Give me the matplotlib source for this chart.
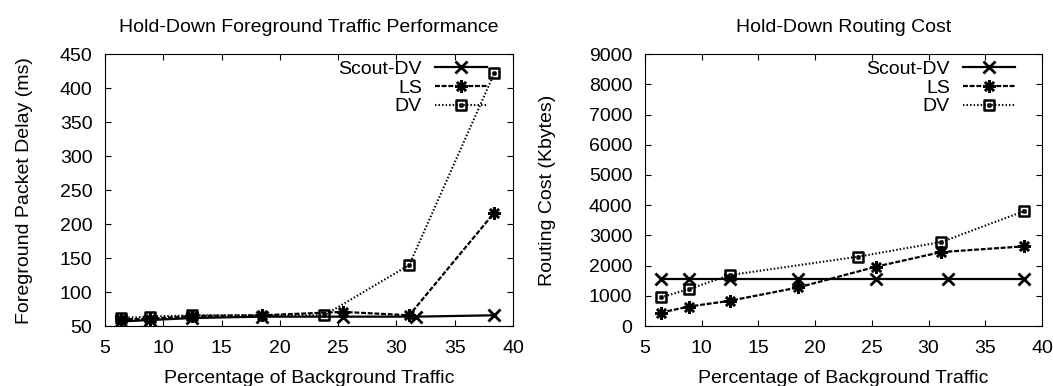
import matplotlib
matplotlib.use("Agg")
import matplotlib.pyplot as plt
from matplotlib.path import Path

plt.rcParams['font.family'] = ['Liberation Sans', 'DejaVu Sans']
plt.rcParams['font.size'] = 14

# data
scout_x = [6.4, 8.9, 12.5, 18.5, 25.4, 31.7, 38.4]
ls_x = [6.4, 8.9, 12.5, 18.5, 25.4, 31.1, 38.4]
dv_x = [6.4, 8.9, 12.5, 23.8, 31.1, 38.4]

# foreground packet delay (ms)
scout_delay = [57, 59, 62, 64, 64, 64, 66]
ls_delay = [60, 61, 65, 66, 71, 66, 217]
dv_delay = [62, 64, 66, 66, 140, 422]

# routing cost (Kbytes)
scout_cost = [1560, 1560, 1560, 1560, 1560, 1560, 1560]
ls_cost = [450, 650, 840, 1280, 1970, 2450, 2640]
dv_cost = [950, 1230, 1690, 2300, 2780, 3800]

xticks = [5, 10, 15, 20, 25, 30, 35, 40]

# square with a dot in the middle, like gnuplot's box point
s, d = 1.0, 0.12
box = Path([(-s, -s), (s, -s), (s, s), (-s, s), (-s, -s),
            (-d, -d), (d, -d), (d, d), (-d, d), (-d, -d)],
           [Path.MOVETO, Path.LINETO, Path.LINETO, Path.LINETO, Path.CLOSEPOLY,
            Path.MOVETO, Path.LINETO, Path.LINETO, Path.LINETO, Path.CLOSEPOLY])


def draw(ax, scout, ls, dv, leg_x, ylab_x):
    ax.plot(scout_x, scout, color='black', lw=1.6, ls='-', marker='x',
            ms=8, mew=2, label='Scout-DV')
    ax.plot(ls_x, ls, color='black', lw=1.6, ls=(0, (2.2, 0.8)), marker=(8, 2, 0),
            ms=9, mew=1.8, label='LS')
    ax.plot(dv_x, dv, color='black', lw=1.5, ls=(0, (0.7, 1.0)), marker=box,
            ms=7, mew=1.8, mfc='none', label='DV')
    ax.set_xlim(5, 40)
    ax.set_xticks(xticks)
    ax.tick_params(direction='in', top=True, right=True, length=4, width=0.8)
    ax.tick_params(axis='y', pad=9)
    ax.tick_params(axis='x', pad=10)
    ax.set_xlabel('Percentage of Background Traffic', labelpad=9)
    ax.yaxis.set_label_coords(ylab_x, 0.5)
    leg = ax.legend(loc='upper right', bbox_to_anchor=(leg_x, 0.99),
                    frameon=False, markerfirst=False, numpoints=1,
                    handlelength=2.7, handletextpad=0.65, labelspacing=0.05,
                    borderaxespad=0, borderpad=0.2)
    for t in leg.get_texts():
        t.set_ha('right')


fig = plt.figure(figsize=(10.53, 3.86), dpi=100)
ax1 = fig.add_axes([0.0997, 0.155, 0.3875, 0.705])
ax2 = fig.add_axes([0.6125, 0.155, 0.377, 0.705])

ax1.set_ylabel('Foreground Packet Delay (ms)')
draw(ax1, scout_delay, ls_delay, dv_delay, 0.946, -0.176)
ax1.set_ylim(50, 450)
ax1.set_yticks(range(50, 451, 50))
ax1.set_title('Hold-Down Foreground Traffic Performance', fontsize=14, pad=16)

ax2.set_ylabel('Routing Cost (Kbytes)')
draw(ax2, scout_cost, ls_cost, dv_cost, 0.942, -0.224)
ax2.set_ylim(0, 9000)
ax2.set_yticks(range(0, 9001, 1000))
ax2.set_title('Hold-Down Routing Cost', fontsize=14, pad=16)

fig.savefig('out.png', dpi=100)
